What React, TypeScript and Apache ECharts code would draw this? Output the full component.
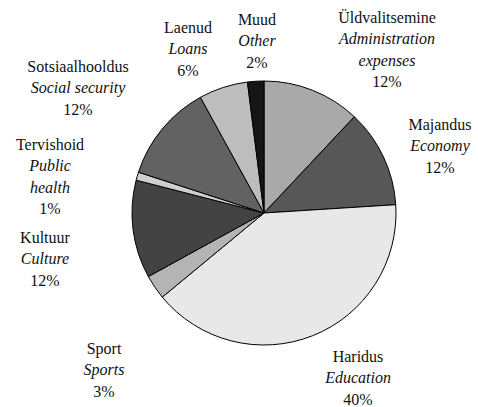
import React, { useEffect, useRef } from "react";
import * as echarts from "echarts";

const namesEt = ["Üldvalitsemine", "Majandus", "Haridus", "Sport", "Kultuur", "Tervishoid", "Sotsiaalhooldus", "Laenud", "Muud"];
const namesEn = ["Administration\nexpenses", "Economy", "Education", "Sports", "Culture", "Public\nhealth", "Social security", "Loans", "Other"];
const shares = [12, 12, 40, 3, 12, 1, 12, 6, 2];

const sliceColors = ["#a9a9a9", "#575757", "#e8e8e8", "#b4b4b4", "#434343", "#cfcfcf", "#626262", "#bdbdbd", "#161616"];
const labelPos: [number, number][] = [
  [387, 7], [440, 114], [358, 346], [104, 338], [45, 227], [50, 134], [78, 56], [188, 17], [257, 9],
];

export default function App() {
  const ref = useRef<HTMLDivElement>(null);
  useEffect(() => {
    if (!ref.current) return;
    const chart = echarts.init(ref.current, null, { renderer: "svg" });
    const font = "'Liberation Serif', 'Times New Roman', serif";
    const lh = 21.3;
    const base = { fontFamily: font, fontSize: 16, color: "#111", lineHeight: lh, align: "center" };
    chart.setOption({
      animation: false,
      backgroundColor: "#ffffff",
      textStyle: { fontFamily: font },
      series: [
        {
          type: "pie",
          center: [264, 213],
          radius: 132,
          startAngle: 90,
          clockwise: true,
          avoidLabelOverlap: false,
          itemStyle: { borderColor: "#000", borderWidth: 1 },
          labelLine: { show: false },
          label: {
            show: true,
            position: "outside",
            fontFamily: font,
            fontSize: 16,
            color: "#111",
            formatter: (p: any) => {
              const i = p.dataIndex;
              const en = namesEn[i].split("\n").map((s) => `{en|${s}}`).join("\n");
              return `{et|${namesEt[i]}}\n${en}\n{pc|${shares[i]}%}`;
            },
            rich: {
              et: { ...base },
              en: { ...base, fontStyle: "italic" },
              pc: { ...base },
            },
          },
          labelLayout: (params: any) => {
            const [x, y] = labelPos[params.dataIndex];
            return { x, y, align: "center", verticalAlign: "top" };
          },
          data: namesEt.map((n, i) => ({
            name: n,
            value: shares[i],
            itemStyle: { color: sliceColors[i] },
          })),
        },
      ],
    });
    return () => chart.dispose();
  }, []);
  return <div ref={ref} style={{ position: "absolute", left: 0, top: 0, width: 478, height: 407 }} />;
}
